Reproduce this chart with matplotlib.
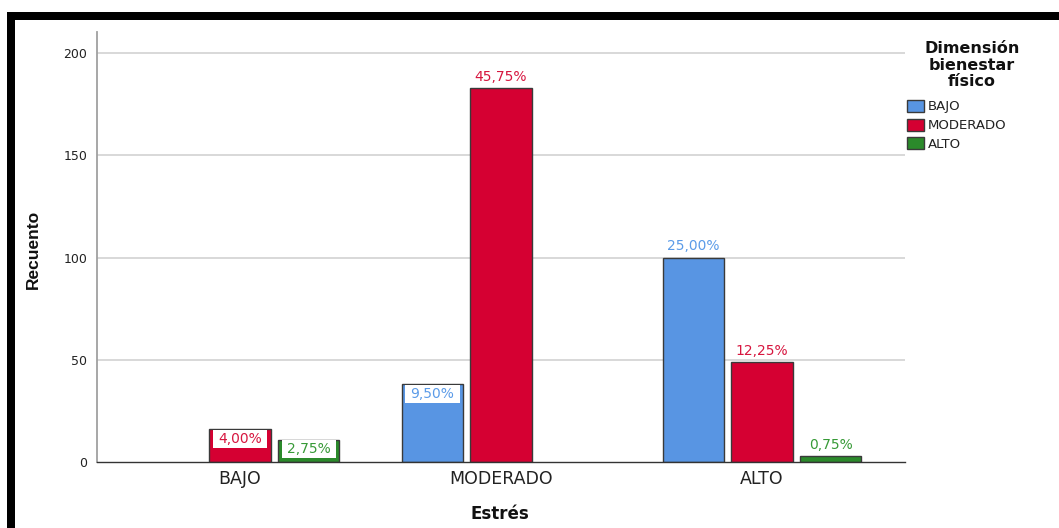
import numpy as np
import matplotlib
matplotlib.use("Agg")
import matplotlib.pyplot as plt
from matplotlib.patches import Rectangle, Patch

plt.rcParams['font.family'] = ['DejaVu Sans']

# Data: counts of "Dimensión bienestar físico" levels within each "Estrés" level
categories = ['BAJO', 'MODERADO', 'ALTO']
series_names = ['BAJO', 'MODERADO', 'ALTO']
counts_bajo = [0, 38, 100]
counts_moderado = [16, 183, 49]
counts_alto = [11, 0, 3]
# whether the percentage label sits inside the top of the bar
inside_bajo = [False, True, False]
inside_moderado = [True, False, False]
inside_alto = [True, False, False]

y_ticks = [0, 50, 100, 150, 200]

series_counts = [counts_bajo, counts_moderado, counts_alto]
series_inside = [inside_bajo, inside_moderado, inside_alto]
bar_colors = ['#5895E3', '#D50032', '#2B8A2B']
label_colors = ['#5B9BE8', '#D7163F', '#379A37']

total = sum(sum(c) for c in series_counts)

W, H = 1059, 528
fig = plt.figure(figsize=(W / 100, H / 100), dpi=100)
ax = fig.add_axes([97 / W, 1 - 462 / H, (905 - 97) / W, (462 - 32) / H])

x = np.arange(len(categories))
bar_w = 0.234
step = 0.264
offsets = [-step, 0.0, step]

ax.set_xlim(-0.548, 2.548)
ax.set_ylim(0, 210.3)

# gridlines
for t in y_ticks[1:]:
    ax.axhline(t, color='#d6d6d6', lw=1.3, zorder=0)

px = 210.3 / 430.0  # data units per pixel on y

for s, (vals, flags) in enumerate(zip(series_counts, series_inside)):
    for i, v in enumerate(vals):
        if v <= 0:
            continue
        xc = x[i] + offsets[s]
        ax.bar(xc, v, width=bar_w, color=bar_colors[s], edgecolor='#3a3a3a',
               linewidth=1.0, zorder=2)
        label = f"{v / total * 100:.2f}".replace('.', ',') + '%'
        if flags[i]:
            box_h = min(18 * px, v - 2 * px)
            ax.add_patch(Rectangle((xc - bar_w / 2 + 0.012, v - box_h - 0.8 * px),
                                   bar_w - 0.024, box_h, facecolor='white',
                                   edgecolor='none', zorder=3))
            ax.text(xc, v - box_h / 2 - 0.8 * px, label, ha='center', va='center',
                    fontsize=10, color=label_colors[s], zorder=4)
        else:
            ax.annotate(label, (xc, v), xytext=(0, 3), textcoords='offset points',
                        ha='center', va='bottom', fontsize=10,
                        color=label_colors[s], zorder=4)

ax.set_yticks(y_ticks)
ax.set_yticklabels([str(t) for t in y_ticks], fontsize=9, color='#222222')
ax.set_xticks(x)
ax.set_xticklabels(categories, fontsize=12.5, color='#222222')
ax.tick_params(axis='both', length=0)
ax.tick_params(axis='y', pad=7)
ax.tick_params(axis='x', pad=6)

for side in ['top', 'right']:
    ax.spines[side].set_visible(False)
ax.spines['left'].set_color('#a0a0a0')
ax.spines['left'].set_linewidth(1.3)
ax.spines['bottom'].set_color('#333333')
ax.spines['bottom'].set_linewidth(1.0)

fig.text(500 / W, 1 - 514 / H, 'Estrés', ha='center', va='center',
         fontsize=12, fontweight='bold', color='#111111')
fig.text(33 / W, 1 - 249 / H, 'Recuento', ha='center', va='center', rotation=90,
         fontsize=12.5, fontweight='bold', color='#111111',
         family=['Liberation Sans', 'DejaVu Sans'])

# legend title
fig.text(972 / W, 1 - 65 / H, 'Dimensión\nbienestar\nfísico', ha='center',
         va='center', multialignment='center', fontsize=11.5, fontweight='bold',
         color='#111111', linespacing=1.12)

handles = [Patch(facecolor=c, edgecolor='#3a3a3a', linewidth=1.0) for c in bar_colors]
leg = fig.legend(handles, series_names, loc='upper left',
                 bbox_to_anchor=(907 / W, 1 - 100 / H), bbox_transform=fig.transFigure,
                 frameon=False, fontsize=9.5, borderpad=0, borderaxespad=0,
                 handlelength=1.3, handleheight=1.0, handletextpad=0.25,
                 labelspacing=0.4)
for t in leg.get_texts():
    t.set_color('#222222')

# black frame along the top and left edges
fig.patches.append(Rectangle((7 / W, 0), 8 / W, 1 - 12 / H, transform=fig.transFigure,
                             facecolor='black', edgecolor='none'))
fig.patches.append(Rectangle((7 / W, 1 - 20 / H), 1 - 7 / W, 8 / H,
                             transform=fig.transFigure, facecolor='black',
                             edgecolor='none'))

fig.savefig('out.png', dpi=100, facecolor='white')
